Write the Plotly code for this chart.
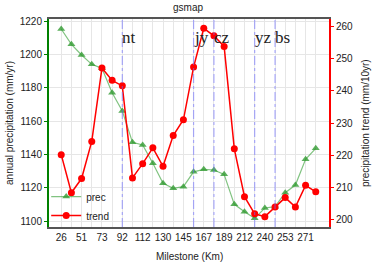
import plotly.graph_objects as go

milestones = [26, 38, 51, 62, 73, 82, 92, 102, 112, 121, 130, 138, 145, 156,
              167, 178, 189, 200, 212, 226, 240, 246, 253, 262, 271, 280]
prec = [1215.2, 1206.0, 1199.6, 1194.0, 1191.6, 1177.0, 1166.0, 1147.2, 1145.6,
        1134.6, 1122.6, 1119.6, 1120.6, 1129.5, 1131.0, 1130.6, 1128.0, 1110.0,
        1105.6, 1101.6, 1107.8, 1108.6, 1117.0, 1121.6, 1137.0, 1143.6]
trend = [220.2, 208.4, 212.8, 224.3, 247.0, 243.2, 241.5, 213.0, 217.4, 222.3,
         216.6, 226.1, 231.0, 247.3, 259.3, 257.0, 253.7, 222.0, 207.2, 201.9,
         201.0, 204.0, 206.9, 204.0, 210.7, 208.7]
stations = ["nt", "jy", "cz", "yz", "bs"]
station_idx = [6, 13, 15, 19, 21]

idx = list(range(len(milestones)))
ticktext = [str(m) if i % 2 == 0 else "" for i, m in enumerate(milestones)]

fig = go.Figure()
fig.add_trace(go.Scatter(
    x=idx, y=prec, name="prec", mode="lines+markers",
    line=dict(color="rgba(76,170,76,0.7)", width=1.2),
    marker=dict(symbol="triangle-up", size=7, color="rgba(50,155,50,0.8)"),
))
fig.add_trace(go.Scatter(
    x=idx, y=trend, name="trend", mode="lines+markers", yaxis="y2",
    line=dict(color="#ff0000", width=1.5),
    marker=dict(symbol="circle", size=7, color="#ff0000"),
))

shapes = []
annotations = []
for s, i in zip(stations, station_idx):
    shapes.append(dict(type="line", xref="x", yref="paper", x0=i, x1=i, y0=0, y1=1,
                       line=dict(color="rgba(110,110,255,0.55)", width=1.2, dash="dashdot")))
    annotations.append(dict(x=i, y=0.913, xref="x", yref="paper", text=s,
                            showarrow=False, xanchor="left", yanchor="middle", xshift=-2,
                            font=dict(family="Liberation Serif", size=17, color="#222")))

title_font = dict(family="Liberation Sans", size=10, color="#222")
annotations += [
    dict(text="gsmap", x=0.496, y=1.053, xref="paper", yref="paper", showarrow=False,
         xanchor="center", yanchor="middle", font=title_font),
    dict(text="Milestone (Km)", x=0.5, y=-0.144, xref="paper", yref="paper", showarrow=False,
         xanchor="center", yanchor="middle", font=title_font),
    dict(text="annual precipitation (mm/yr)", x=-0.143, y=0.5, xref="paper", yref="paper",
         showarrow=False, textangle=-90, xanchor="center", yanchor="middle", font=title_font),
    dict(text="precipitation trend (mm/10yr)", x=1.129, y=0.5, xref="paper", yref="paper",
         showarrow=False, textangle=-90, xanchor="center", yanchor="middle", font=title_font),
]

fig.update_layout(
    width=373, height=265,
    margin=dict(l=49, r=44, t=19, b=38, autoexpand=False),
    paper_bgcolor="white", plot_bgcolor="white",
    font=dict(family="Liberation Sans", size=10, color="#222"),
    showlegend=True,
    legend=dict(x=-0.01, y=-0.015, xanchor="left", yanchor="bottom",
                bgcolor="rgba(255,255,255,0)", font=dict(size=10),
                itemwidth=30, tracegroupgap=0),
    shapes=shapes, annotations=annotations,
    xaxis=dict(range=[-1.2, 26.3], tickvals=idx, ticktext=ticktext, tickangle=0,
               showgrid=True, gridcolor="#e6e6e6", gridwidth=1, automargin=False,
               showline=True, linecolor="#555", linewidth=1.5, mirror=True,
               ticks="", zeroline=False),
    yaxis=dict(range=[1096.4, 1221.2], tickvals=[1100, 1120, 1140, 1160, 1180, 1200, 1220],
               showgrid=True, gridcolor="#e6e6e6", zeroline=False, automargin=False,
               showline=True, linecolor="green", linewidth=2,
               ticks="outside", ticklen=3, tickcolor="green"),
    yaxis2=dict(range=[197.8, 262.2], tickvals=[200, 210, 220, 230, 240, 250, 260],
                overlaying="y", side="right", showgrid=False, zeroline=False, automargin=False,
                showline=True, linecolor="red", linewidth=2,
                ticks="outside", ticklen=3, tickcolor="red"),
)

fig.write_html("out.html", config={"displayModeBar": False},
               post_script="document.body.style.margin='0';")
